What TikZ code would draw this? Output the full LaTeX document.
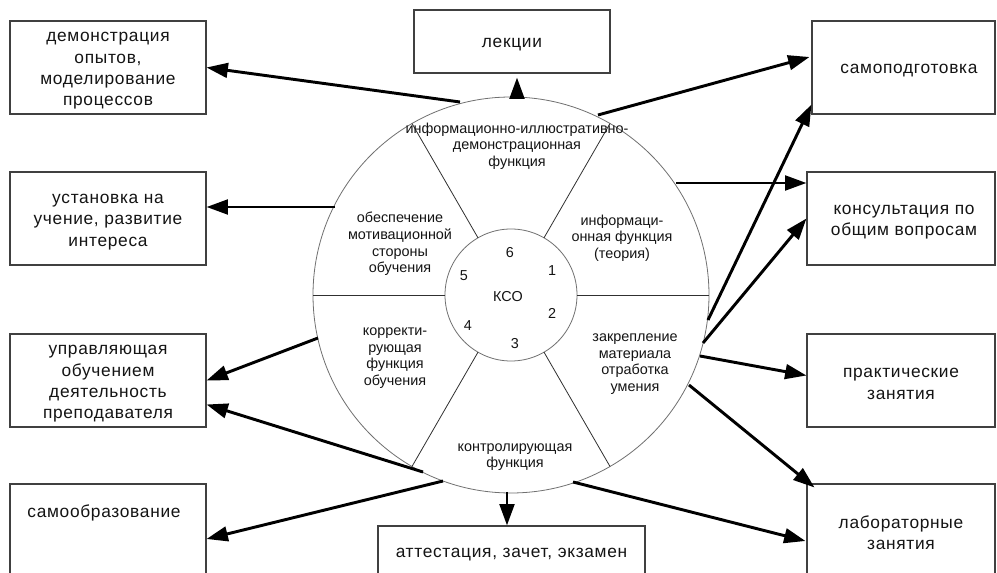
\documentclass[tikz,border=0pt]{standalone}
\usepackage{fontspec}
\setmainfont{Liberation Sans}
\newfontfamily\boxfont[LetterSpace=4]{Liberation Sans}
\usetikzlibrary{arrows.meta,calc}
\definecolor{boxline}{HTML}{404040}
\definecolor{circline}{HTML}{707070}
\definecolor{spoke}{HTML}{303030}
\definecolor{txt}{HTML}{141414}
\begin{document}
\begin{tikzpicture}[x=0.75pt,y=-0.75pt,
  box/.style={draw=boxline, line width=0.8pt, fill=white, inner sep=0pt},
  lbox/.style={box, minimum width=147pt, minimum height=69.75pt},
  rbox/.style={box, minimum width=141pt, minimum height=69.75pt},
  btxt/.style={align=center, inner sep=0pt, text=txt, font=\boxfont\fontsize{13}{16}\selectfont},
  intxt/.style={align=center, inner sep=0pt, text=txt, font=\fontsize{10.8}{12.5}\selectfont},
  arr/.style={line width=2.2pt, draw=black, -{Triangle[length=16pt,width=11pt]}},
]
\fill[white] (0,0) rectangle (997,573);
\useasboundingbox (0,0) rectangle (997,573);

% circles and spokes
\coordinate (c) at (511,295);
\draw[circline, line width=0.6pt] (c) circle[radius=148.5pt];
\draw[circline, line width=0.6pt] (c) circle[radius=49.5pt];
\foreach \a in {0,60,120,180,240,300}
  \draw[spoke, line width=0.6pt] ($(c)+(\a:49.5pt)$) -- ($(c)+(\a:148.5pt)$);

% left boxes
\node[lbox] (b1) at (108,67.5) {};
\node[btxt] (t1) at (108,71) {демонстрация\\опытов,\\моделирование\\процессов};
\node[lbox] (b2) at (108,218.5) {};
\node[btxt] (t2) at (108,222) {установка на\\учение, развитие\\интереса};
\node[lbox] (b3) at (108,380.5) {};
\node[btxt] (t3) at (108,384) {управляющая\\обучением\\деятельность\\преподавателя};
\node[box, minimum width=147pt, minimum height=82.5pt] (b4) at (108,539) {};
\node[btxt] (t4) at (104,512.5) {самообразование};

% top and bottom boxes
\node[box, minimum width=147pt, minimum height=47.25pt] (lek) at (512,41.5) {};
\node[btxt] (tlek) at (512,45) {лекции};
\node[box, minimum width=200.25pt, minimum height=51pt] (att) at (511.5,560) {};
\node[btxt] (tatt) at (511.5,555) {аттестация, зачет, экзамен};

% right boxes
\node[box, minimum width=137.25pt, minimum height=69.75pt] (sp) at (903.5,67.5) {};
\node[btxt] (tsp) at (909,71) {самоподготовка};
\node[rbox] (ko) at (901,218.5) {};
\node[btxt] (tko) at (904,222) {консультация по\\общим вопросам};
\node[rbox] (pr) at (901,380.5) {};
\node[btxt] (tpr) at (901,384) {практические\\занятия};
\node[box, minimum width=141pt, minimum height=82.5pt] (lab) at (901,539) {};
\node[btxt] (tlab) at (901,533) {лабораторные\\занятия};

% inner texts
\node[intxt] (f1) at (517,146) {информационно-иллюстративно-\\демонстрационная\\функция};
\node[intxt] (f2) at (400,244) {обеспечение\\мотивационной\\стороны\\обучения};
\node[intxt] (f3) at (622,238) {информаци-\\онная функция\\(теория)};
\node[intxt] (f4) at (395,358) {корректи-\\рующая\\функция\\обучения};
\node[intxt] (f5) at (635,364) {закрепление\\материала\\отработка\\умения};
\node[intxt] (f6) at (515,457) {контролирующая\\функция};
\node[intxt] (kso) at (508,297) {КСО};
\node[intxt] (n1) at (552,271) {1};
\node[intxt] (n2) at (552,313) {2};
\node[intxt] (n3) at (515,344) {3};
\node[intxt] (n4) at (468,326) {4};
\node[intxt] (n5) at (464,276) {5};
\node[intxt] (n6) at (510,253) {6};

% start points on the circle
\coordinate (a1) at (460,102);
\coordinate (a2) at (335,207);
\coordinate (a3) at (318,338);
\coordinate (a4) at (423,472);
\coordinate (a5) at (443,481);
\coordinate (t0) at (517,99);
\coordinate (s0) at (507,492);
\coordinate (r1) at (598,115);
\coordinate (r2) at (708,320);
\coordinate (r3) at (676,183);
\coordinate (r4) at (703,343);
\coordinate (r5) at (700,356);
\coordinate (r6) at (689,385);
\coordinate (r7) at (573,482);

% arrows
\draw[arr] (a1) -- (b1.east);
\draw[arr] (a2) -- (b2.east |- a2);
\draw[arr] (a3) -- (b3.east);
\draw[arr] (a4) -- ($(b3.east)+(0,24)$);
\draw[arr] (a5) -- (b4.east);
\draw[arr] (t0) -- ($(lek.south)+(5,4)$);
\draw[arr] (s0) -- (att.north -| s0);
\draw[arr] (r1) -- ($(sp.west)+(-2,-10.5)$);
\draw[arr] (r2) -- ($(sp.south west)+(0,-10)$);
\draw[arr] (r3) -- (ko.west |- r3);
\draw[arr] (r4) -- (ko.west);
\draw[arr] (r5) -- ($(pr.west)+(0,-5)$);
\draw[arr] (r6) -- ($(lab.north west)+(8,4)$);
\draw[arr] (r7) -- ($(lab.west)+(-1,2)$);
\end{tikzpicture}
\end{document}
